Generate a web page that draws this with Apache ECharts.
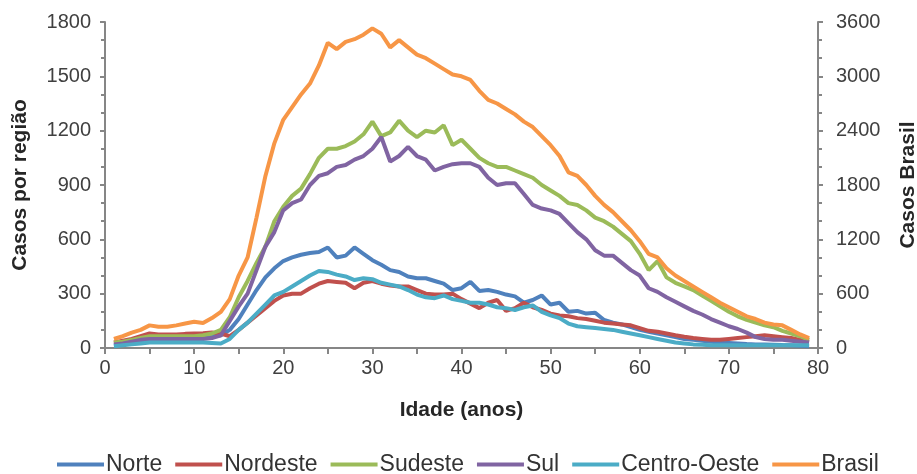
<!DOCTYPE html>
<html>
<head>
<meta charset="utf-8">
<script src="https://cdn.jsdelivr.net/npm/echarts@6/dist/echarts.min.js"></script>
<style>
html,body{margin:0;padding:0;background:#fff;}
#chart{width:917px;height:474px;}
</style>
</head>
<body>
<div id="chart"></div>
<script>
// Ages 1..79
var ages = [];
for (var a = 1; a <= 79; a++) ages.push(a);

var norte = [15,20,30,40,55,55,55,60,60,60,60,65,70,100,160,240,320,390,440,480,
  500,515,525,530,555,500,510,555,520,485,460,430,420,395,385,385,370,355,320,330,
  365,315,320,310,295,285,250,265,290,240,250,200,205,190,195,155,140,130,115,100,
  90,80,70,60,50,45,40,35,30,28,25,22,20,20,18,16,15,12,10];

var nordeste = [30,40,50,65,80,75,75,75,78,80,82,85,80,65,100,140,180,220,260,290,
  300,300,330,355,370,365,360,330,360,370,355,345,340,340,320,300,295,295,300,270,
  245,220,250,265,205,220,250,225,210,190,180,175,165,160,150,140,135,130,125,110,
  95,90,80,70,62,55,50,45,45,50,55,60,65,70,65,60,55,45,35];

var sudeste = [30,35,45,55,65,65,65,65,65,65,70,80,100,170,280,370,470,560,700,780,
  840,880,960,1050,1100,1100,1115,1140,1180,1250,1170,1190,1255,1200,1165,1200,1190,1230,1120,1150,
  1100,1050,1020,1000,1000,980,960,940,900,870,840,800,790,760,720,700,670,630,590,520,
  430,480,390,360,340,320,290,260,230,200,175,155,140,125,115,95,80,65,45];

var sul = [20,25,35,45,50,50,50,50,50,50,50,55,70,150,230,300,430,560,640,760,
  800,820,900,950,965,1000,1010,1040,1060,1100,1165,1030,1060,1110,1060,1040,980,1000,1015,1020,
  1020,1000,940,900,910,910,850,790,770,760,740,690,640,600,540,510,510,470,430,400,
  330,310,280,255,230,205,185,160,140,120,105,85,60,50,45,45,40,35,30];

var centroOeste = [10,15,20,25,30,30,30,30,30,30,30,28,25,50,100,140,190,240,290,310,
  340,370,400,425,420,405,395,375,385,380,360,350,340,320,295,280,275,290,270,260,
  250,250,240,225,220,210,225,235,200,180,165,135,120,115,110,105,100,90,80,70,
  60,50,40,30,25,20,18,15,15,15,15,15,15,15,15,15,15,15,15];

// Brasil, in "Casos Brasil" units (right axis)
var brasil = [100,130,170,200,250,235,235,250,270,290,275,330,400,540,800,1000,1440,1900,2260,2520,
  2660,2800,2920,3120,3370,3300,3380,3410,3460,3530,3470,3320,3400,3320,3240,3200,3140,3080,3020,3000,
  2960,2840,2740,2700,2640,2580,2500,2440,2340,2240,2120,1940,1900,1800,1680,1580,1500,1400,1300,1180,
  1040,1000,880,800,740,680,620,560,500,450,400,350,320,280,260,250,200,150,110];

var seriesNames = ['Norte','Nordeste','Sudeste','Sul','Centro-Oeste','Brasil'];
var seriesColors = ['#4F81BD','#C0504D','#9BBB59','#8064A2','#4BACC6','#F79646'];
var seriesValues = [norte, nordeste, sudeste, sul, centroOeste, brasil];

var xTicks = [0,10,20,30,40,50,60,70,80];
var leftTicks = [0,300,600,900,1200,1500,1800];
var rightTicks = [0,600,1200,1800,2400,3000,3600];

function pairs(vals){
  return ages.map(function(a,i){ return [a, vals[i]]; });
}
function plain(v){ return String(v); }

var FONT = '"Liberation Sans", Arial, sans-serif';
var axisLineStyle = {color:'#868686', width:2};

var chart = echarts.init(document.getElementById('chart'), null, {renderer:'canvas'});
chart.setOption({
  animation:false,
  backgroundColor:'#ffffff',
  textStyle:{fontFamily:FONT},
  grid:{left:105, right:99, top:22, bottom:126, containLabel:false, outerBoundsMode:'none'},
  legend:{
    data:seriesNames,
    left:52, top:448,
    icon:'rect', itemWidth:47, itemHeight:4, itemGap:13,
    textStyle:{fontFamily:FONT, fontSize:23, color:'#333333', padding:[0,0,0,-3]}
  },
  xAxis:{
    type:'value', min:xTicks[0], max:xTicks[xTicks.length-1], interval:10,
    name:'Idade (anos)', nameLocation:'middle', nameGap:52,
    nameTextStyle:{fontFamily:FONT, fontSize:21, fontWeight:'bold', color:'#262626'},
    axisLine:{show:true, lineStyle:axisLineStyle},
    axisTick:{show:true, length:6, lineStyle:axisLineStyle},
    minorTick:{show:true, splitNumber:2, length:6, lineStyle:axisLineStyle},
    axisLabel:{fontFamily:FONT, fontSize:20, color:'#404040', margin:10, formatter:plain},
    splitLine:{show:false}
  },
  yAxis:[{
    type:'value', min:leftTicks[0], max:leftTicks[leftTicks.length-1], interval:300,
    name:'Casos por região', nameLocation:'middle', nameGap:74, nameRotate:90,
    nameTextStyle:{fontFamily:FONT, fontSize:21, fontWeight:'bold', color:'#262626'},
    axisLine:{show:true, lineStyle:axisLineStyle},
    axisTick:{show:true, length:5, lineStyle:axisLineStyle},
    minorTick:{show:true, splitNumber:3, length:4, lineStyle:axisLineStyle},
    axisLabel:{fontFamily:FONT, fontSize:20, color:'#404040', margin:14, formatter:plain},
    splitLine:{show:false}
  },{
    type:'value', position:'right', min:rightTicks[0], max:rightTicks[rightTicks.length-1], interval:600,
    name:'Casos Brasil', nameLocation:'middle', nameGap:80, nameRotate:90,
    nameTextStyle:{fontFamily:FONT, fontSize:21, fontWeight:'bold', color:'#262626'},
    axisLine:{show:true, lineStyle:axisLineStyle},
    axisTick:{show:true, length:5, lineStyle:axisLineStyle},
    minorTick:{show:true, splitNumber:3, length:4, lineStyle:axisLineStyle},
    axisLabel:{fontFamily:FONT, fontSize:20, color:'#404040', margin:18, formatter:plain},
    splitLine:{show:false}
  }],
  series: seriesNames.map(function(n,i){
    return {
      name:n, type:'line', yAxisIndex: n==='Brasil' ? 1 : 0,
      data:pairs(seriesValues[i]),
      symbol:'none', smooth:false,
      color:seriesColors[i],
      lineStyle:{color:seriesColors[i], width:4},
      z:2+i
    };
  })
});
</script>
</body>
</html>
